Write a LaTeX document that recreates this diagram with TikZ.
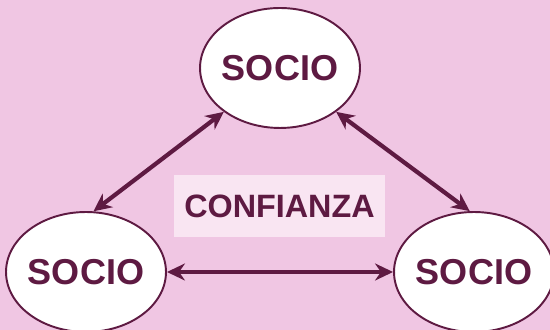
\documentclass[tikz,border=0pt]{standalone}
\usepackage{fontspec}
\setmainfont{Liberation Sans}
\usetikzlibrary{arrows.meta,positioning,shapes.geometric}
\definecolor{bgpink}{HTML}{F0C6E3}
\definecolor{plum}{HTML}{5E1A42}
\definecolor{boxpink}{HTML}{F9E5F2}
\tikzset{
  socio/.style     = {ellipse, draw=plum, line width=1.1pt, fill=white,
                      minimum width=3.2cm, minimum height=2.4cm, inner sep=-8pt,
                      text=plum, font=\bfseries\fontsize{20.5}{22}\selectfont},
  trustbox/.style  = {rectangle, fill=boxpink, minimum width=4.22cm,
                      minimum height=1.24cm, inner sep=0pt,
                      text=plum, font=\bfseries\fontsize{18.4}{20}\selectfont},
  link/.style      = {{Stealth[length=3.6mm,width=3.4mm]}-{Stealth[length=3.6mm,width=3.4mm]},
                      line width=2.4pt, draw=plum},
}

\begin{document}
\begin{tikzpicture}[x=0.02cm,y=0.02cm]
  % ---------------- background -------------------------------------------
  \fill[bgpink] (0,0) rectangle (550,330);
  \useasboundingbox (0,0) rectangle (550,330);

  % ---------------- partners ---------------------------------------------
  \node[socio] (top) at (280,262) {SOCIO};
  \node[socio] (left) at (86,58) {SOCIO};
  \node[socio] (right) at (474,58) {SOCIO};

  % ---------------- centre label -----------------------------------------
  \node[trustbox] (trust) at (279.5,124) {CONFIANZA};

  % ---------------- links ------------------------------------------------
  \draw[link] (left.83) -- (top.218);
  \draw[link] (top.322) -- (right.94);
  \draw[link] (left.east) -- (right.west);
\end{tikzpicture}
\end{document}
